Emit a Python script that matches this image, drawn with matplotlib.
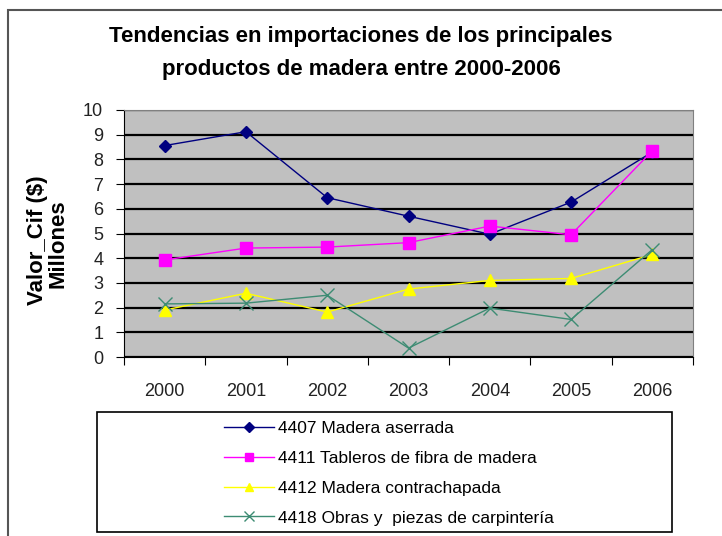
import numpy as np
import matplotlib
matplotlib.use("Agg")
import matplotlib.pyplot as plt
from matplotlib.patches import Rectangle

years = ["2000", "2001", "2002", "2003", "2004", "2005", "2006"]
madera_aserrada = [8.56, 9.12, 6.45, 5.70, 4.97, 6.27, 8.30]
tableros_fibra = [3.93, 4.41, 4.45, 4.63, 5.30, 4.95, 8.35]
madera_contrachapada = [1.90, 2.58, 1.82, 2.75, 3.10, 3.18, 4.15]
obras_carpinteria = [2.15, 2.18, 2.50, 0.36, 1.98, 1.52, 4.35]

labels = ["4407 Madera aserrada",
          "4411 Tableros de fibra de madera",
          "4412 Madera contrachapada",
          "4418 Obras y  piezas de carpintería"]

plt.rcParams['font.family'] = ['Liberation Sans', 'DejaVu Sans']

W, H = 722, 536
fig = plt.figure(figsize=(W / 100, H / 100), dpi=100)
fig.patch.set_facecolor("white")

# outer chart border (runs off the right/bottom edge)
fig.patches.append(Rectangle((8 / W, -0.05), 1.1, 1 - 10 / H + 0.05,
                             transform=fig.transFigure, fill=False,
                             edgecolor="#555555", linewidth=1.5))

ax = fig.add_axes([124 / W, 1 - 357 / H, (693 - 124) / W, (357 - 110) / H])
ax.set_facecolor("#C0C0C0")

x = np.arange(len(years))
ax.plot(x, madera_aserrada, color="#000080", marker="D", markersize=6.5,
        linewidth=1, label=labels[0])
ax.plot(x, tableros_fibra, color="#FF00FF", marker="s", markersize=8.5,
        linewidth=1, markeredgecolor="#FF00FF", label=labels[1])
ax.plot(x, madera_contrachapada, color="#FFFF00", marker="^", markersize=8.5,
        linewidth=1, label=labels[2])
ax.plot(x, obras_carpinteria, color="#3d8c73", marker="x", markersize=10,
        markeredgewidth=1, linewidth=1, label=labels[3])

ax.set_xlim(-0.5, len(years) - 0.5)
ax.set_ylim(0, 10)
ax.set_yticks(range(0, 11))
ax.yaxis.grid(True, color="black", linewidth=1.6)
ax.set_axisbelow(True)

# categories centred between boundary tick marks
ax.set_xticks(np.arange(-0.5, len(years), 1))
ax.set_xticklabels([])
ax.set_xticks(x, minor=True)
ax.set_xticklabels(years, minor=True)
ax.tick_params(axis="x", which="major", direction="out", length=6, color="black")
ax.tick_params(axis="x", which="minor", length=0, pad=19, labelsize=13,
               labelcolor="#222222")
ax.tick_params(axis="y", direction="out", length=6, labelsize=13,
               labelcolor="#222222", pad=9)

for side in ["top", "right"]:
    ax.spines[side].set_color("#808080")
for side in ["left", "bottom"]:
    ax.spines[side].set_color("black")

fig.text(0.5, 1 - 53 / H, "Tendencias en importaciones de los principales\n"
         "productos de madera entre 2000-2006", ha="center", va="center",
         fontsize=16, fontweight="bold", linespacing=1.7)

fig.text(37 / W, 1 - 240 / H, "Valor_Cif ($)", rotation=90, ha="center",
         va="center", fontsize=16, fontweight="bold")
fig.text(58 / W, 1 - 244 / H, "Millones", rotation=90, ha="center",
         va="center", fontsize=16, fontweight="bold")

# legend box
fig.patches.append(Rectangle((97 / W, 1 - 532 / H), (672 - 97) / W, (532 - 412) / H,
                             transform=fig.transFigure, fill=False,
                             edgecolor="black", linewidth=1.2))
fig.legend(loc="upper left", bbox_to_anchor=(215 / W, 1 - 412 / H),
           frameon=False, fontsize=12.5, handlelength=2.9, handletextpad=0.25,
           labelspacing=0.85, borderpad=0, markerscale=0.75)

fig.savefig("out.png", dpi=100, facecolor="white")
